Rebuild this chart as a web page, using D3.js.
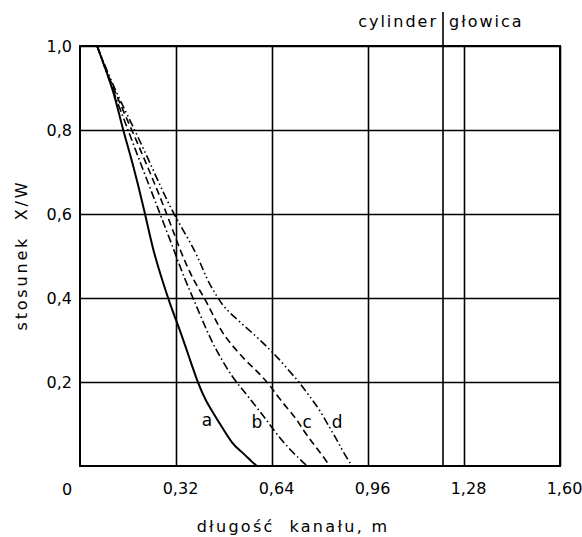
<!DOCTYPE html>
<html>
<head>
<meta charset="utf-8">
<script src="https://cdn.jsdelivr.net/npm/d3@7"></script>
<style>
  html, body { margin: 0; padding: 0; background: #fff; }
  svg { display: block; }
  text { font-family: "DejaVu Sans", sans-serif; fill: #000; }
</style>
</head>
<body>
<svg id="chart" width="582" height="537"></svg>
<script>
// ---- data ----
const xTicks = [0.32, 0.64, 0.96, 1.28, 1.60];
const yTicks = [0.2, 0.4, 0.6, 0.8, 1.0];
const boundaryX = 1.21;          // cylinder | głowica
const seriesNames = ["a", "b", "c", "d"];

const curveA = [[0.057,1.0],[0.09,0.936],[0.117,0.879],[0.143,0.8],[0.173,0.729],[0.217,0.602],
  [0.243,0.514],[0.277,0.436],[0.307,0.371],[0.333,0.324],[0.367,0.252],[0.393,0.198],
  [0.417,0.157],[0.467,0.1],[0.51,0.05],[0.533,0.038],[0.577,0.007],[0.59,0.0]];
const curveB = [[0.057,1.0],[0.107,0.9],[0.16,0.8],[0.213,0.7],[0.267,0.6],[0.317,0.507],
  [0.35,0.443],[0.38,0.395],[0.407,0.348],[0.44,0.295],[0.467,0.26],[0.507,0.212],
  [0.543,0.181],[0.583,0.145],[0.617,0.114],[0.65,0.081],[0.70,0.038],[0.757,0.0]];
const curveC = [[0.057,1.0],[0.11,0.9],[0.173,0.8],[0.233,0.7],[0.29,0.6],[0.333,0.514],
  [0.377,0.443],[0.42,0.395],[0.467,0.324],[0.50,0.293],[0.55,0.252],[0.59,0.226],
  [0.633,0.193],[0.667,0.157],[0.717,0.117],[0.74,0.09],[0.773,0.057],[0.80,0.033],[0.833,0.0]];
const curveD = [[0.057,1.0],[0.113,0.9],[0.183,0.8],[0.247,0.7],[0.31,0.6],[0.385,0.514],
  [0.423,0.443],[0.45,0.412],[0.477,0.379],[0.533,0.343],[0.59,0.307],[0.627,0.281],
  [0.657,0.26],[0.70,0.224],[0.733,0.198],[0.767,0.164],[0.80,0.133],[0.833,0.09],
  [0.857,0.062],[0.877,0.033],[0.907,0.0]];
// label anchor positions for a,b,c,d
const labelPos = [[0.423,0.11],[0.59,0.105],[0.757,0.105],[0.857,0.105]];

// ---- layout ----
const svg = d3.select("#chart");
const x = d3.scaleLinear().domain([0, 1.6]).range([80, 560]);
const y = d3.scaleLinear().domain([0, 1]).range([466, 46]);
const W = x(1.6) - x(0), H = y(0) - y(1);

const fmtX = d => d.toFixed(2).replace(".", ",");
const fmtY = d => d.toFixed(1).replace(".", ",");

// x grid + tick labels
const gx = svg.append("g").attr("transform", `translate(0,${y(0)})`)
  .call(d3.axisBottom(x).tickValues(xTicks).tickSize(-H).tickPadding(17).tickFormat(fmtX));
gx.select(".domain").remove();
gx.selectAll(".tick line").attr("stroke", "#000").attr("stroke-width", 1.6);
gx.selectAll(".tick text").attr("font-size", 16).attr("dx", 4)
  .style("font-family", "DejaVu Sans");

// y grid + tick labels
const gy = svg.append("g").attr("transform", `translate(${x(0)},0)`)
  .call(d3.axisLeft(y).tickValues(yTicks).tickSize(-W).tickPadding(8).tickFormat(fmtY));
gy.select(".domain").remove();
gy.selectAll(".tick line").attr("stroke", "#000").attr("stroke-width", 1.6);
gy.selectAll(".tick text").attr("font-size", 16).style("font-family", "DejaVu Sans");

// shared zero label
svg.append("text").attr("x", x(0) - 13).attr("y", y(0) + 23).attr("dy", "0.35em")
  .attr("text-anchor", "middle").attr("font-size", 16).text("0");

// border
svg.append("rect").attr("x", x(0)).attr("y", y(1)).attr("width", W).attr("height", H)
  .attr("fill", "none").attr("stroke", "#000").attr("stroke-width", 2);

// cylinder / głowica boundary
svg.append("line").attr("x1", x(boundaryX)).attr("x2", x(boundaryX))
  .attr("y1", 12).attr("y2", y(0)).attr("stroke", "#000").attr("stroke-width", 1.6);
svg.append("text").attr("x", x(boundaryX) - 5).attr("y", 27).attr("text-anchor", "end")
  .attr("font-size", 16).attr("letter-spacing", 2).text("cylinder");
svg.append("text").attr("x", x(boundaryX) + 6).attr("y", 27).attr("text-anchor", "start")
  .attr("font-size", 16).attr("letter-spacing", 2).text("głowica");

// curves
const line = d3.line().x(d => x(d[0])).y(d => y(d[1])).curve(d3.curveBasis);
const curves = [curveA, curveB, curveC, curveD];
const dashes = [null, "8,3,1.5,3", "7,4", "8,3,1.5,3,1.5,3"];
const widths = [2, 1.6, 1.6, 1.6];
curves.forEach((c, i) => {
  svg.append("path").datum(c).attr("d", line).attr("fill", "none")
    .attr("stroke", "#000").attr("stroke-width", widths[i])
    .attr("stroke-dasharray", dashes[i]);
});

// curve labels
seriesNames.forEach((n, i) => {
  svg.append("text").attr("x", x(labelPos[i][0])).attr("y", y(labelPos[i][1]))
    .attr("text-anchor", "middle").attr("dy", "0.35em").attr("font-size", 17).text(n);
});

// axis titles
svg.append("text").attr("x", 293).attr("y", 532).attr("text-anchor", "middle")
  .attr("font-size", 16).attr("letter-spacing", 2.3)
  .style("white-space", "pre").text("długość  kanału, m");
svg.append("text").attr("transform", "translate(27,255) rotate(-90)")
  .attr("text-anchor", "middle").attr("font-size", 16).attr("letter-spacing", 2.8)
  .style("white-space", "pre").text("stosunek  X/W");
</script>
</body>
</html>
